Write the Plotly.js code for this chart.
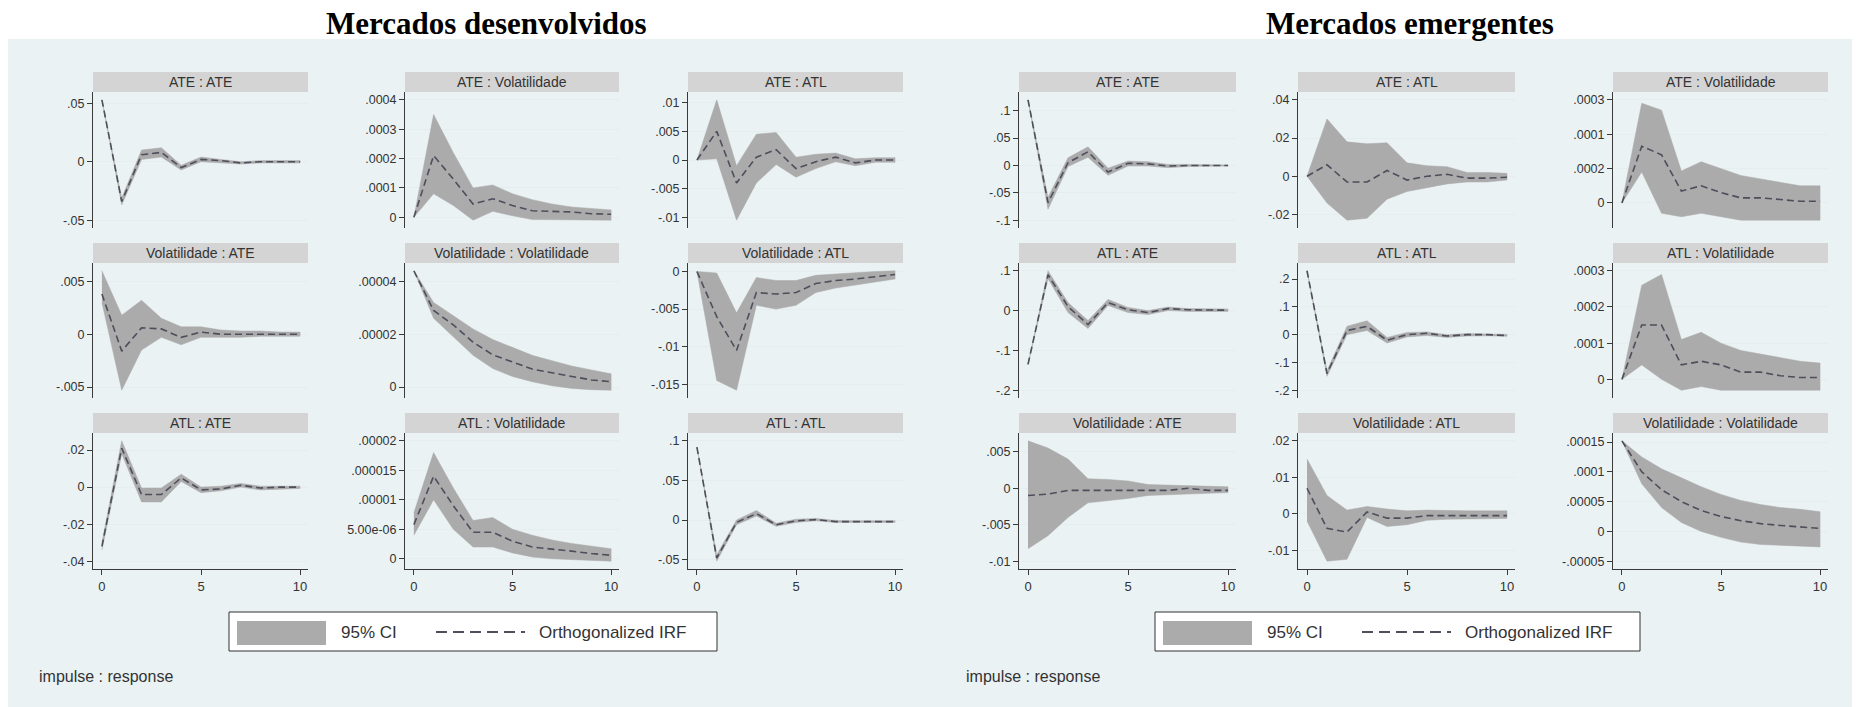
<!DOCTYPE html>
<html><head><meta charset="utf-8">
<script src="https://cdn.plot.ly/plotly-3.0.1.min.js"></script>
<style>html,body{margin:0;padding:0;background:#fff}#chart{width:1858px;height:707px}</style>
</head><body><div id="chart"></div>
<script>
// ---------------- DATA ----------------
const steps = [0,1,2,3,4,5,6,7,8,9,10];
const groupTitles = ['Mercados desenvolvidos', 'Mercados emergentes'];
const legendLabels = ['95% CI', 'Orthogonalized IRF'];
const noteText = 'impulse : response';
const xTickVals = [0, 5, 10];
const xTickText = ['0', '5', '10'];

const devPanelTitles = ['ATE : ATE','ATE : Volatilidade','ATE : ATL',
                        'Volatilidade : ATE','Volatilidade : Volatilidade','Volatilidade : ATL',
                        'ATL : ATE','ATL : Volatilidade','ATL : ATL'];
const emgPanelTitles = ['ATE : ATE','ATE : ATL','ATE : Volatilidade',
                        'ATL : ATE','ATL : ATL','ATL : Volatilidade',
                        'Volatilidade : ATE','Volatilidade : ATL','Volatilidade : Volatilidade'];

// Mercados desenvolvidos
const dev_ATE_ATE_irf = [0.053,-0.034,0.006,0.008,-0.005,0.002,0.001,-0.001,0.000,0.000,0.000];
const dev_ATE_ATE_lo  = [0.053,-0.037,0.002,0.004,-0.007,0.000,-0.001,-0.002,-0.001,-0.001,-0.001];
const dev_ATE_ATE_hi  = [0.053,-0.031,0.010,0.012,-0.003,0.004,0.002,0.000,0.001,0.001,0.001];
const dev_ATE_ATE_ticks = [-0.05,0,0.05];
const dev_ATE_ATE_labels = ['-.05','0','.05'];

const dev_ATE_VOL_irf = [0,0.00021,0.00013,0.000045,0.000063,0.00004,0.000022,0.00002,0.000018,0.000012,0.00001];
const dev_ATE_VOL_lo  = [0,0.00008,0.00004,-0.00001,0.00002,0.000005,-0.000008,-0.00001,-0.00001,-0.00001,-0.00001];
const dev_ATE_VOL_hi  = [0,0.00035,0.00022,0.0001,0.00011,0.00008,0.00006,0.000045,0.000035,0.00003,0.000025];
const dev_ATE_VOL_ticks = [0,0.0001,0.0002,0.0003,0.0004];
const dev_ATE_VOL_labels = ['0','.0001','.0002','.0003','.0004'];

const dev_ATE_ATL_irf = [0,0.005,-0.004,0.0005,0.0018,-0.0015,-0.0003,0.0005,-0.0005,0,0];
const dev_ATE_ATL_lo  = [0,0.0002,-0.0105,-0.004,-0.0008,-0.003,-0.0015,-0.0003,-0.001,-0.0004,-0.0004];
const dev_ATE_ATL_hi  = [0,0.0105,-0.001,0.0045,0.0048,0.0005,0.001,0.0012,0.0002,0.0004,0.0004];
const dev_ATE_ATL_ticks = [-0.01,-0.005,0,0.005,0.01];
const dev_ATE_ATL_labels = ['-.01','-.005','0','.005','.01'];

const dev_VOL_ATE_irf = [0.0038,-0.0016,0.0006,0.0005,-0.0003,0.0002,0,0,0,0,0];
const dev_VOL_ATE_lo  = [0.003,-0.0053,-0.0015,-0.0003,-0.001,-0.0003,-0.0003,-0.0003,-0.0002,-0.0002,-0.0002];
const dev_VOL_ATE_hi  = [0.006,0.0018,0.0032,0.0015,0.0007,0.0007,0.0004,0.0003,0.0003,0.0002,0.0002];
const dev_VOL_ATE_ticks = [-0.005,0,0.005];
const dev_VOL_ATE_labels = ['-.005','0','.005'];

const dev_VOL_VOL_irf = [0.000044,0.000029,0.0000235,0.000017,0.0000122,0.0000095,0.0000068,0.0000054,0.000004,0.0000027,0.000002];
const dev_VOL_VOL_lo  = [0.000044,0.000026,0.000019,0.000012,0.000007,0.000004,0.000002,0.0000005,-0.0000005,-0.000001,-0.0000012];
const dev_VOL_VOL_hi  = [0.000044,0.000032,0.000027,0.000022,0.000018,0.000015,0.000012,0.00001,0.000008,0.0000065,0.000005];
const dev_VOL_VOL_ticks = [0,0.00002,0.00004];
const dev_VOL_VOL_labels = ['0','.00002','.00004'];

const dev_VOL_ATL_irf = [0,-0.006,-0.0105,-0.0028,-0.003,-0.0028,-0.0016,-0.0012,-0.001,-0.0007,-0.0004];
const dev_VOL_ATL_lo  = [0,-0.0145,-0.0158,-0.0045,-0.005,-0.0045,-0.0028,-0.0022,-0.0018,-0.0014,-0.001];
const dev_VOL_ATL_hi  = [0,-0.0002,-0.0055,-0.0008,-0.0012,-0.0012,-0.0005,-0.0003,-0.0001,0,0.0001];
const dev_VOL_ATL_ticks = [-0.015,-0.01,-0.005,0];
const dev_VOL_ATL_labels = ['-.015','-.01','-.005','0'];

const dev_ATL_ATE_irf = [-0.032,0.021,-0.004,-0.004,0.005,-0.0015,-0.001,0.001,-0.0005,0,0];
const dev_ATL_ATE_lo  = [-0.034,0.018,-0.008,-0.008,0.003,-0.003,-0.002,0,-0.0015,-0.001,-0.0007];
const dev_ATL_ATE_hi  = [-0.030,0.025,-0.0005,-0.0005,0.007,0,0.0005,0.002,0.0005,0.0005,0.0005];
const dev_ATL_ATE_ticks = [-0.04,-0.02,0,0.02];
const dev_ATL_ATE_labels = ['-.04','-.02','0','.02'];

const dev_ATL_VOL_irf = [0.0000058,0.000014,0.000009,0.0000045,0.0000045,0.000003,0.000002,0.0000017,0.0000013,0.0000009,0.0000006];
const dev_ATL_VOL_lo  = [0.000004,0.00001,0.000005,0.000002,0.000002,0.000001,0.0000003,0,-0.0000002,-0.0000003,-0.0000004];
const dev_ATL_VOL_hi  = [0.0000078,0.000018,0.000012,0.0000065,0.000007,0.000005,0.000004,0.0000032,0.0000026,0.0000021,0.0000017];
const dev_ATL_VOL_ticks = [0,0.000005,0.00001,0.000015,0.00002];
const dev_ATL_VOL_labels = ['0','5.00e-06','.00001','.000015','.00002'];

const dev_ATL_ATL_irf = [0.092,-0.048,-0.003,0.008,-0.006,-0.001,0.0005,-0.002,-0.002,-0.002,-0.002];
const dev_ATL_ATL_lo  = [0.092,-0.052,-0.006,0.005,-0.008,-0.003,-0.001,-0.003,-0.003,-0.003,-0.003];
const dev_ATL_ATL_hi  = [0.092,-0.044,0.0,0.012,-0.004,0.001,0.002,-0.0005,-0.001,-0.001,-0.001];
const dev_ATL_ATL_ticks = [-0.05,0,0.05,0.1];
const dev_ATL_ATL_labels = ['-.05','0','.05','.1'];

// Mercados emergentes
const emg_ATE_ATE_irf = [0.12,-0.068,0.005,0.025,-0.012,0.004,0.003,-0.001,0,0,0];
const emg_ATE_ATE_lo  = [0.12,-0.08,-0.002,0.015,-0.018,-0.001,-0.001,-0.004,-0.002,-0.0015,-0.001];
const emg_ATE_ATE_hi  = [0.12,-0.058,0.014,0.034,-0.005,0.008,0.007,0.002,0.002,0.0015,0.001];
const emg_ATE_ATE_ticks = [-0.1,-0.05,0,0.05,0.1];
const emg_ATE_ATE_labels = ['-.1','-.05','0','.05','.1'];

const emg_ATE_ATL_irf = [0,0.006,-0.003,-0.003,0.003,-0.002,0,0.001,-0.001,-0.001,-0.0005];
const emg_ATE_ATL_lo  = [0,-0.014,-0.023,-0.022,-0.012,-0.008,-0.006,-0.004,-0.003,-0.003,-0.002];
const emg_ATE_ATL_hi  = [0,0.03,0.018,0.017,0.0175,0.007,0.0055,0.005,0.002,0.002,0.0015];
const emg_ATE_ATL_ticks = [-0.02,0,0.02,0.04];
const emg_ATE_ATL_labels = ['-.02','0','.02','.04'];

const emg_ATE_VOL_irf = [0,0.000165,0.00014,0.000035,0.00005,0.00003,0.000015,0.000015,0.00001,0.000005,0.000005];
const emg_ATE_VOL_lo  = [0,0.00009,-0.00003,-0.00004,-0.00003,-0.00004,-0.00005,-0.00005,-0.00005,-0.00005,-0.00005];
const emg_ATE_VOL_hi  = [0,0.00029,0.00027,0.000093,0.00012,0.0001,0.00008,0.00007,0.00006,0.00005,0.00005];
const emg_ATE_VOL_ticks = [0,0.0001,0.0002,0.0003];
const emg_ATE_VOL_labels = ['0','.0002','.0001','.0003'];

const emg_ATL_ATE_irf = [-0.135,0.09,0.01,-0.035,0.02,0.002,-0.005,0.005,0.002,0.001,0.001];
const emg_ATL_ATE_lo  = [-0.135,0.08,-0.005,-0.045,0.013,-0.005,-0.01,0.0,-0.002,-0.002,-0.002];
const emg_ATL_ATE_hi  = [-0.135,0.1,0.02,-0.025,0.028,0.008,0.0,0.009,0.005,0.004,0.004];
const emg_ATL_ATE_ticks = [-0.2,-0.1,0,0.1];
const emg_ATL_ATE_labels = ['-.2','-.1','0','.1'];

const emg_ATL_ATL_irf = [0.23,-0.14,0.015,0.03,-0.02,0,0.005,-0.005,0,0,-0.003];
const emg_ATL_ATL_lo  = [0.23,-0.15,0.0,0.015,-0.03,-0.008,-0.003,-0.01,-0.005,-0.004,-0.006];
const emg_ATL_ATL_hi  = [0.23,-0.13,0.03,0.05,-0.01,0.008,0.01,0.0,0.004,0.003,0.001];
const emg_ATL_ATL_ticks = [-0.2,-0.1,0,0.1,0.2];
const emg_ATL_ATL_labels = ['-.2','-.1','0','.1','.2'];

const emg_ATL_VOL_irf = [0,0.00015,0.00015,0.00004,0.00005,0.00004,0.00002,0.00002,0.00001,0.000005,0.000005];
const emg_ATL_VOL_lo  = [0,0.00004,0.0,-0.00003,-0.00002,-0.00003,-0.00003,-0.00003,-0.00003,-0.00003,-0.00003];
const emg_ATL_VOL_hi  = [0,0.00026,0.00029,0.00011,0.00013,0.0001,0.00008,0.00007,0.00006,0.00005,0.000045];
const emg_ATL_VOL_ticks = [0,0.0001,0.0002,0.0003];
const emg_ATL_VOL_labels = ['0','.0001','.0002','.0003'];

const emg_VOL_ATE_irf = [-0.001,-0.0008,-0.0003,-0.0003,-0.0003,-0.0003,-0.0003,-0.0003,0,-0.0003,-0.0003];
const emg_VOL_ATE_lo  = [-0.0083,-0.0065,-0.004,-0.002,-0.0017,-0.0014,-0.001,-0.0009,-0.0008,-0.0007,-0.0006];
const emg_VOL_ATE_hi  = [0.0065,0.0055,0.004,0.0013,0.0012,0.001,0.0005,0.0004,0.0003,0.0002,0.0002];
const emg_VOL_ATE_ticks = [-0.01,-0.005,0,0.005];
const emg_VOL_ATE_labels = ['-.01','-.005','0','.005'];

const emg_VOL_ATL_irf = [0.007,-0.004,-0.005,0.0005,-0.0012,-0.0012,-0.0005,-0.0005,-0.0005,-0.0005,-0.0005];
const emg_VOL_ATL_lo  = [-0.002,-0.013,-0.0125,-0.001,-0.0035,-0.003,-0.0018,-0.0015,-0.0015,-0.0013,-0.0013];
const emg_VOL_ATL_hi  = [0.015,0.005,0.001,0.002,0.0013,0.0008,0.001,0.0008,0.0008,0.0008,0.0008];
const emg_VOL_ATL_ticks = [-0.01,0,0.01,0.02];
const emg_VOL_ATL_labels = ['-.01','0','.01','.02'];

const emg_VOL_VOL_irf = [0.000152,0.0001,0.00007,0.00005,0.000035,0.000025,0.000018,0.000013,0.00001,0.000008,0.000005];
const emg_VOL_VOL_lo  = [0.000152,0.00008,0.00004,0.000015,0.0,-0.00001,-0.000018,-0.000022,-0.000024,-0.000025,-0.000026];
const emg_VOL_VOL_hi  = [0.000152,0.000125,0.000105,0.00009,0.000075,0.000062,0.000052,0.000045,0.00004,0.000037,0.000033];
const emg_VOL_VOL_ticks = [-0.00005,0,0.00005,0.0001,0.00015];
const emg_VOL_VOL_labels = ['-.00005','0','.00005','.0001','.00015'];

// ---------------- ASSEMBLY ----------------
const devSeries = [
  [dev_ATE_ATE_irf,dev_ATE_ATE_lo,dev_ATE_ATE_hi,dev_ATE_ATE_ticks,dev_ATE_ATE_labels],
  [dev_ATE_VOL_irf,dev_ATE_VOL_lo,dev_ATE_VOL_hi,dev_ATE_VOL_ticks,dev_ATE_VOL_labels],
  [dev_ATE_ATL_irf,dev_ATE_ATL_lo,dev_ATE_ATL_hi,dev_ATE_ATL_ticks,dev_ATE_ATL_labels],
  [dev_VOL_ATE_irf,dev_VOL_ATE_lo,dev_VOL_ATE_hi,dev_VOL_ATE_ticks,dev_VOL_ATE_labels],
  [dev_VOL_VOL_irf,dev_VOL_VOL_lo,dev_VOL_VOL_hi,dev_VOL_VOL_ticks,dev_VOL_VOL_labels],
  [dev_VOL_ATL_irf,dev_VOL_ATL_lo,dev_VOL_ATL_hi,dev_VOL_ATL_ticks,dev_VOL_ATL_labels],
  [dev_ATL_ATE_irf,dev_ATL_ATE_lo,dev_ATL_ATE_hi,dev_ATL_ATE_ticks,dev_ATL_ATE_labels],
  [dev_ATL_VOL_irf,dev_ATL_VOL_lo,dev_ATL_VOL_hi,dev_ATL_VOL_ticks,dev_ATL_VOL_labels],
  [dev_ATL_ATL_irf,dev_ATL_ATL_lo,dev_ATL_ATL_hi,dev_ATL_ATL_ticks,dev_ATL_ATL_labels]
];
const emgSeries = [
  [emg_ATE_ATE_irf,emg_ATE_ATE_lo,emg_ATE_ATE_hi,emg_ATE_ATE_ticks,emg_ATE_ATE_labels],
  [emg_ATE_ATL_irf,emg_ATE_ATL_lo,emg_ATE_ATL_hi,emg_ATE_ATL_ticks,emg_ATE_ATL_labels],
  [emg_ATE_VOL_irf,emg_ATE_VOL_lo,emg_ATE_VOL_hi,emg_ATE_VOL_ticks,emg_ATE_VOL_labels],
  [emg_ATL_ATE_irf,emg_ATL_ATE_lo,emg_ATL_ATE_hi,emg_ATL_ATE_ticks,emg_ATL_ATE_labels],
  [emg_ATL_ATL_irf,emg_ATL_ATL_lo,emg_ATL_ATL_hi,emg_ATL_ATL_ticks,emg_ATL_ATL_labels],
  [emg_ATL_VOL_irf,emg_ATL_VOL_lo,emg_ATL_VOL_hi,emg_ATL_VOL_ticks,emg_ATL_VOL_labels],
  [emg_VOL_ATE_irf,emg_VOL_ATE_lo,emg_VOL_ATE_hi,emg_VOL_ATE_ticks,emg_VOL_ATE_labels],
  [emg_VOL_ATL_irf,emg_VOL_ATL_lo,emg_VOL_ATL_hi,emg_VOL_ATL_ticks,emg_VOL_ATL_labels],
  [emg_VOL_VOL_irf,emg_VOL_VOL_lo,emg_VOL_VOL_hi,emg_VOL_VOL_ticks,emg_VOL_VOL_labels]
];

const W = 1858, H = 707;
const px = x => x / W;
const py = y => 1 - y / H;
const colPx = [[[93,308],[405,619],[688,903]], [[1019,1236],[1298,1515],[1613,1828]]];
const rowPx = [[72,92,228],[243,263,398],[413,433,569]];
const groupCenters = [486, 1410];
const legendBox = [[229,717],[1155,1640]];
const noteX = [37, 964];

const FONT = 'Liberation Sans, Arial, sans-serif';
const BAND = '#ABABAB';
const LINE = '#4E4E5C';
const AXC = '#3A3A3A';

const data = [];
const layout = {
  width: W, height: H,
  margin: {l:0, r:0, t:0, b:0},
  paper_bgcolor: '#FFFFFF',
  plot_bgcolor: '#FFFFFF',
  showlegend: false,
  shapes: [],
  annotations: []
};

// background
layout.shapes.push({type:'rect', xref:'paper', yref:'paper', layer:'below',
  x0:px(8), x1:px(1852), y0:py(707), y1:py(39), fillcolor:'#EAF2F3', line:{width:0}});

let n = 0;
[devSeries, emgSeries].forEach((series, g) => {
  const titles = g === 0 ? devPanelTitles : emgPanelTitles;
  series.forEach((s, i) => {
    n += 1;
    const [irf, lo, hi, ticks, labels] = s;
    const r = Math.floor(i / 3), c = i % 3;
    const [x0, x1] = colPx[g][c];
    const [sTop, pTop, pBot] = rowPx[r];
    const xid = n === 1 ? 'x' : 'x' + n;
    const yid = n === 1 ? 'y' : 'y' + n;
    const xkey = n === 1 ? 'xaxis' : 'xaxis' + n;
    const ykey = n === 1 ? 'yaxis' : 'yaxis' + n;

    let ymin = Math.min(Math.min(...ticks), Math.min(...lo));
    let ymax = Math.max(Math.max(...ticks), Math.max(...hi));
    const pad = (ymax - ymin) * 0.065;

    layout[xkey] = {
      domain: [px(x0), px(x1)], anchor: yid, range: [-0.45, 10.4],
      showgrid: false, zeroline: false, fixedrange: true,
      showline: r === 2, linecolor: AXC, linewidth: 1,
      ticks: r === 2 ? 'outside' : '', ticklen: 5, tickcolor: AXC, tickwidth: 1,
      tickmode: 'array', tickvals: xTickVals, ticktext: xTickText,
      showticklabels: r === 2,
      tickfont: {family: FONT, size: 13, color: '#333'}
    };
    layout[ykey] = {
      domain: [py(pBot), py(pTop)], anchor: xid, range: [ymin - pad, ymax + pad],
      showgrid: true, gridcolor: '#E6EDEF', gridwidth: 1, zeroline: false, fixedrange: true,
      showline: true, linecolor: AXC, linewidth: 1,
      ticks: 'outside', ticklen: 5, tickcolor: AXC, tickwidth: 1,
      tickmode: 'array', tickvals: ticks, ticktext: labels,
      tickfont: {family: FONT, size: 12.5, color: '#333'}
    };

    data.push({
      type: 'scatter', mode: 'lines', xaxis: xid, yaxis: yid,
      x: steps.concat(steps.slice().reverse()),
      y: hi.concat(lo.slice().reverse()),
      fill: 'toself', fillcolor: BAND, line: {color: BAND, width: 0.5},
      hoverinfo: 'skip', showlegend: false
    });
    data.push({
      type: 'scatter', mode: 'lines', xaxis: xid, yaxis: yid,
      x: steps, y: irf,
      line: {color: LINE, width: 1.6, dash: '7px,4px'},
      showlegend: false
    });

    // strip header
    layout.shapes.push({type:'rect', xref:'paper', yref:'paper',
      x0:px(x0), x1:px(x1), y0:py(pTop), y1:py(sTop), fillcolor:'#D4D4D4', line:{width:0}});
    layout.annotations.push({xref:'paper', yref:'paper', x:px((x0+x1)/2), y:py((sTop+pTop)/2),
      text: titles[i], showarrow:false, xanchor:'center', yanchor:'middle',
      font:{family:FONT, size:14, color:'#333'}});
  });

  // group title
  layout.annotations.push({xref:'paper', yref:'paper', x:px(groupCenters[g]), y:py(24),
    text:'<b>' + groupTitles[g] + '</b>', showarrow:false, xanchor:'center', yanchor:'middle',
    font:{family:'Liberation Serif, Times New Roman, serif', size:31, color:'#000'}});

  // legend
  const [lx0, lx1] = legendBox[g];
  layout.shapes.push({type:'rect', xref:'paper', yref:'paper',
    x0:px(lx0), x1:px(lx1), y0:py(651), y1:py(612), fillcolor:'#FFFFFF', line:{color:'#333', width:1}});
  layout.shapes.push({type:'rect', xref:'paper', yref:'paper',
    x0:px(lx0+8), x1:px(lx0+97), y0:py(645), y1:py(621), fillcolor:BAND, line:{width:0}});
  layout.shapes.push({type:'line', xref:'paper', yref:'paper',
    x0:px(lx0+207), x1:px(lx0+296), y0:py(632), y1:py(632), line:{color:LINE, width:1.8, dash:'11px,6px'}});
  layout.annotations.push({xref:'paper', yref:'paper', x:px(lx0+110), y:py(632),
    text:legendLabels[0], showarrow:false, xanchor:'left', yanchor:'middle',
    font:{family:FONT, size:17, color:'#333'}});
  layout.annotations.push({xref:'paper', yref:'paper', x:px(lx0+308), y:py(632),
    text:legendLabels[1], showarrow:false, xanchor:'left', yanchor:'middle',
    font:{family:FONT, size:17, color:'#333'}});

  // note
  layout.annotations.push({xref:'paper', yref:'paper', x:px(noteX[g]), y:py(676),
    text:noteText, showarrow:false, xanchor:'left', yanchor:'middle',
    font:{family:FONT, size:16, color:'#333'}});
});

Plotly.newPlot('chart', data, layout, {displayModeBar:false, staticPlot:true});
</script></body></html>
